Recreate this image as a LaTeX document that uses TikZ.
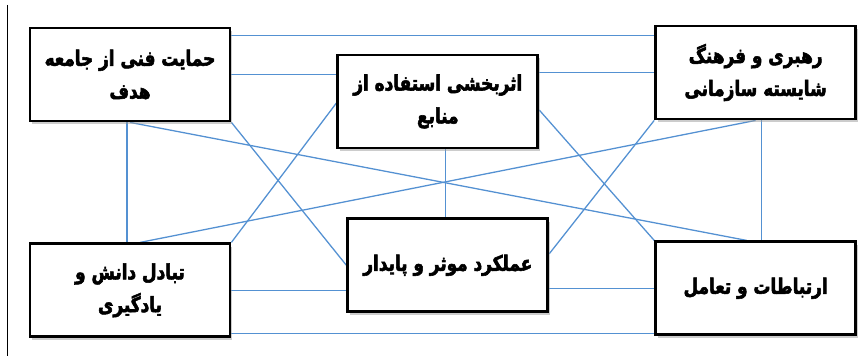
\documentclass[tikz,border=0pt]{standalone}
\usepackage{fontspec}
\newfontfamily\arabicfont[Script=Arabic, FakeStretch=0.8, BoldFeatures={FakeBold=2.6}]{DejaVu Sans}
\TeXXeTstate=1
\usetikzlibrary{positioning, shadows, backgrounds}
\definecolor{linkblue}{RGB}{84,145,210}

\begin{document}
\begin{tikzpicture}[
    font=\arabicfont\bfseries\fontsize{18}{28}\selectfont,
    factor/.style={draw=black, fill=white, line width=2.4pt, minimum width=6cm,
        minimum height=2.79cm, align=center, inner sep=4pt,
        drop shadow={shadow xshift=0.07cm, shadow yshift=-0.09cm, fill=black!40, opacity=0.5}},
    link/.style={draw=linkblue, line width=1.1pt}
  ]
    \useasboundingbox (0,0) rectangle (25.74,-10.68);
    \draw[line width=1.3pt] (0.23,-0.15) -- (0.23,-10.68);

    \node[factor] (tl) at (3.9,-2.235) {\beginR حمایت فنی از  جامعه\endR\\ \beginR هدف\endR};
    \node[factor, right=3.15cm of tl, yshift=-0.81cm] (tc) {\beginR اثربخشی استفاده از\endR\\ \beginR منابع\endR};
    \node[factor, right=3.45cm of tc, yshift=0.87cm] (tr) {\beginR رهبری و فرهنگ\endR\\ \beginR شایسته سازمانی\endR};
    \node[factor, below=3.6cm of tl] (bl) {\beginR تبادل دانش و\endR\\ \beginR یادگیری\endR};
    \node[factor, below=2.04cm of tc, xshift=0.3cm] (bc) {\beginR عملکرد موثر و پایدار\endR};
    \node[factor, below=3.6cm of tr] (br) {\beginR ارتباطات و تعامل\endR};

    % connectors between the boxes
    \begin{scope}[on background layer]
    \draw[link] ([yshift=-0.27cm]tl.north east) -- ([yshift=-0.33cm]tr.north west);
    \draw[link] (tl.east) -- (tl.east -| tc.west);
    \draw[link] (tr.west -| tc.east) -- (tr.west);
    \draw[link] ([yshift=-0.045cm]tc.west) -- (bl.north east);
    \draw[link] (tl.south east) -- (bc.west);
    \draw[link] ([xshift=-0.09cm]tl.south) -- ([xshift=-0.09cm]bl.north);
    \draw[link] (tl.south) -- ([xshift=-0.27cm]br.north);
    \draw[link] ([xshift=0.18cm]tr.south) -- ([xshift=0.18cm]br.north);
    \draw[link] (tr.south) -- ([xshift=0.3cm]bl.north);
    \draw[link] (tr.south west) -- ([yshift=0.345cm]bc.east);
    \draw[link] ([yshift=-0.255cm]tc.east) -- (br.north west);
    \draw[link] ([xshift=0.24cm]tc.south) -- ([xshift=-0.06cm]bc.north);
    \draw[link] (bl.east) -- (bl.east -| bc.west);
    \draw[link] ([yshift=0.15cm]bl.south east) -- ([yshift=0.15cm]bl.south east -| br.west);
    \draw[link] (bc.east |- br.west) -- (br.west);
    \end{scope}
\end{tikzpicture}
\end{document}
